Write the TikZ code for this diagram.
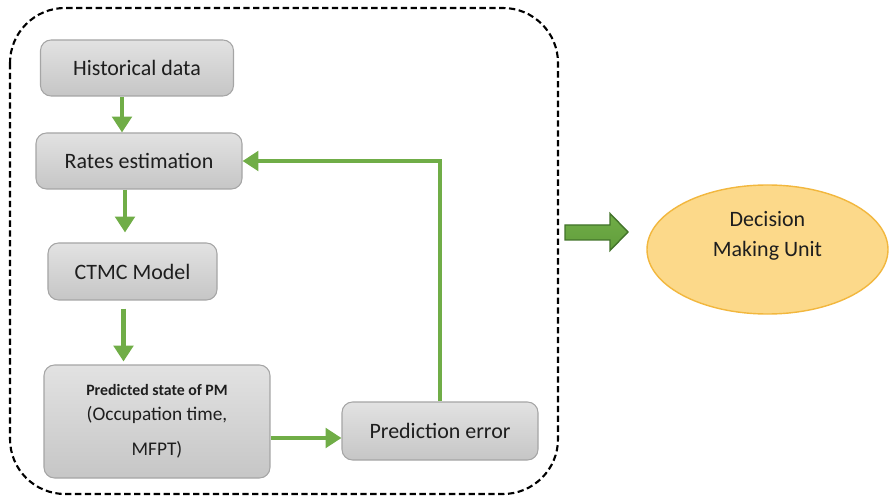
\documentclass[tikz,border=0pt]{standalone}
\usepackage{fontspec}
\setmainfont{Carlito}
\usetikzlibrary{arrows.meta,shapes.geometric}
\definecolor{boxtop}{RGB}{226,226,226}
\definecolor{boxbot}{RGB}{198,198,198}
\definecolor{boxline}{RGB}{165,165,165}
\definecolor{flowgreen}{RGB}{112,173,71}
\definecolor{darkgreen}{RGB}{66,115,42}
\definecolor{midgreen}{RGB}{98,158,60}
\definecolor{dmufill}{RGB}{252,217,138}
\definecolor{dmuline}{RGB}{242,183,62}
\definecolor{txt}{RGB}{30,30,30}

\begin{document}
\begin{tikzpicture}[
    box/.style={draw=boxline, line width=0.6pt, rounded corners=6pt, top color=boxtop, bottom color=boxbot,
                text=txt, font=\fontsize{12.5}{14}\selectfont, align=center, inner sep=0pt},
    flow/.style={draw=flowgreen, line width=2.3pt, -{Triangle[width=11pt,length=9pt]}}
]
    % Canvas
    \useasboundingbox (0,0) rectangle (17.8,-9.96);

    % Dashed frame round the prediction loop
    \draw[line width=1.2pt, dash pattern=on 3.6pt off 2pt, rounded corners=1.1cm] (0.2,-0.16) rectangle (11.16,-9.88);

    % Steps of the loop
    \node[box, minimum width=3.86cm, minimum height=1.12cm] (hist) at (2.74,-1.36) {Historical data};
    \node[box, minimum width=4.12cm, minimum height=1.12cm] (rates) at (2.78,-3.22) {Rates estimation};
    \node[box, minimum width=3.38cm, minimum height=1.14cm] (ctmc) at (2.65,-5.43) {CTMC Model};
    \node[box, minimum width=4.52cm, minimum height=2.26cm] (pred) at (3.14,-8.43)
        {{\fontsize{9}{10}\selectfont\bfseries Predicted state of PM}\\[0pt]{\fontsize{11}{13}\selectfont(Occupation time,}\\[6pt]{\fontsize{11}{13}\selectfont MFPT)}};
    \node[box, minimum width=3.92cm, minimum height=1.16cm] (err) at (8.8,-8.62) {Prediction error};

    % Flow arrows
    \draw[flow] ([xshift=-0.3cm]hist.south) -- ([xshift=-0.34cm]rates.north);
    \draw[flow, shorten >=0.2cm] ([xshift=-0.28cm]rates.south) -- ([xshift=-0.28cm]rates.south |- ctmc.north);
    \draw[flow, shorten <=0.16cm, shorten >=0.06cm] ([xshift=-0.18cm]ctmc.south) -- ([xshift=-0.18cm]ctmc.south |- pred.north);
    \draw[flow] ([yshift=-0.33cm]pred.east) -- ([yshift=-0.14cm]err.west);

    % Feedback of the error
    \draw[flow] (err.north) |- (rates.east);

    % Output to the decision unit
    \node[ellipse, draw=dmuline, line width=0.8pt, fill=dmufill, minimum width=4.82cm, minimum height=2.58cm] (dmu) at (15.35,-4.99) {};
    \node[text=txt, font=\fontsize{12.5}{17}\selectfont, align=center] (dmutext) at ([yshift=0.27cm]dmu.center) {Decision\\Making Unit};
    \draw[darkgreen, line width=0.8pt, top color=flowgreen, bottom color=midgreen]
        (11.3,-4.5) -- (12.2,-4.5) -- (12.2,-4.27) -- (12.56,-4.64) -- (12.2,-5.01) -- (12.2,-4.8) -- (11.3,-4.8) -- cycle;
\end{tikzpicture}
\end{document}
